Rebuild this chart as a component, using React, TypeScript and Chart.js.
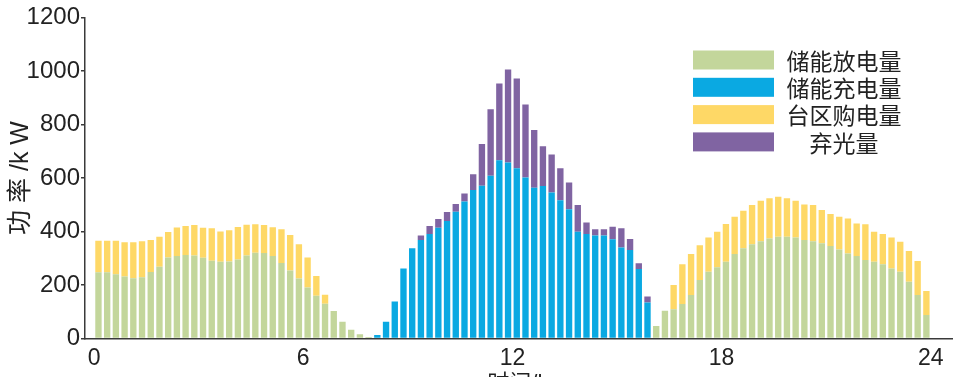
import React, { useEffect, useRef } from "react";
import { Chart, registerables } from "chart.js";

Chart.register(...registerables);

// 96 fifteen-minute slots, bar placed at the slot centre (hours)
const slotHours = Array.from({ length: 96 }, (_, i) => i * 0.25 + 0.125);
const xTickValues = [0, 6, 12, 18, 24];
const yTickValues = [0, 200, 400, 600, 800, 1000, 1200];

const seriesNames = ["储能放电量", "储能充电量", "台区购电量", "弃光量"];
const seriesColors = ["#c3d69b", "#0aa9e2", "#fed866", "#8064a2"];

// 储能放电量 (kW)
const discharge = [
  248, 248, 240, 232, 225, 229, 249, 268, 303, 308, 312, 310, 302, 291, 287, 288,
  295, 310, 321, 320, 308, 282, 254, 224, 191, 160, 130, 103, 63, 33, 16, 6,
  0, 0, 0, 0, 0, 0, 0, 0, 0, 0, 0, 0, 0, 0, 0, 0,
  0, 0, 0, 0, 0, 0, 0, 0, 0, 0, 0, 0, 0, 0, 0, 0,
  47, 104, 109, 129, 163, 219, 250, 266, 287, 316, 337, 352, 364, 374, 380, 380,
  378, 368, 364, 356, 346, 333, 318, 308, 293, 287, 278, 262, 250, 212, 163, 88,
];

// 储能充电量 (kW)
const charge = [
  0, 0, 0, 0, 0, 0, 0, 0, 0, 0, 0, 0, 0, 0, 0, 0,
  0, 0, 0, 0, 0, 0, 0, 0, 0, 0, 0, 0, 0, 0, 0, 0,
  13, 63, 138, 262, 337, 368, 391, 414, 439, 474, 512, 555, 571, 608, 666, 658,
  636, 602, 564, 570, 546, 517, 483, 399, 391, 385, 385, 371, 340, 331, 260, 135,
  0, 0, 0, 0, 0, 0, 0, 0, 0, 0, 0, 0, 0, 0, 0, 0,
  0, 0, 0, 0, 0, 0, 0, 0, 0, 0, 0, 0, 0, 0, 0, 0,
];

// 台区购电量 (kW)
const purchase = [
  117, 117, 125, 128, 135, 135, 119, 112, 95, 107, 109, 114, 112, 121, 113, 117,
  122, 115, 106, 104, 108, 126, 133, 128, 112, 74, 34, 0, 0, 0, 0, 0,
  0, 0, 0, 0, 0, 0, 0, 0, 0, 0, 0, 0, 0, 0, 0, 0,
  0, 0, 0, 0, 0, 0, 0, 0, 0, 0, 0, 0, 0, 0, 0, 0,
  0, 0, 91, 149, 153, 130, 128, 133, 141, 139, 141, 147, 151, 150, 150, 144,
  137, 133, 135, 124, 119, 122, 131, 122, 134, 112, 113, 116, 112, 115, 127, 90,
];

// 弃光量 (kW)
const curtail = [
  0, 0, 0, 0, 0, 0, 0, 0, 0, 0, 0, 0, 0, 0, 0, 0,
  0, 0, 0, 0, 0, 0, 0, 0, 0, 0, 0, 0, 0, 0, 0, 0,
  0, 0, 0, 0, 0, 17, 30, 33, 34, 29, 30, 59, 156, 249, 287, 348,
  336, 273, 215, 149, 142, 119, 100, 100, 43, 23, 23, 47, 72, 41, 21, 22,
  0, 0, 0, 0, 0, 0, 0, 0, 0, 0, 0, 0, 0, 0, 0, 0,
  0, 0, 0, 0, 0, 0, 0, 0, 0, 0, 0, 0, 0, 0, 0, 0,
];

const allSeries = [discharge, charge, purchase, curtail];

const latin = '"Liberation Sans", Arial, sans-serif';
const cjk = '"Liberation Sans", "Noto Sans CJK SC", sans-serif';
const axisColor = "#3a3a3a";
const textColor = "#222222";

const boxLegend = {
  id: "boxLegend",
  afterDraw(chart: any) {
    const ctx = chart.ctx;
    ctx.save();
    chart.data.datasets.forEach((ds: any, i: number) => {
      const cy = 60 + i * 27.3;
      ctx.fillStyle = ds.backgroundColor;
      ctx.fillRect(693, cy - 9.5, 81, 19);
      ctx.fillStyle = textColor;
      ctx.font = '23px "Noto Sans CJK SC", sans-serif';
      ctx.textAlign = "center";
      ctx.textBaseline = "middle";
      ctx.fillText(ds.label, 844, cy + 1);
    });
    ctx.restore();
  },
};

export default function App() {
  const canvasRef = useRef<HTMLCanvasElement | null>(null);

  useEffect(() => {
    if (!canvasRef.current) return;
    const chart = new Chart(canvasRef.current, {
      type: "bar",
      data: {
        datasets: allSeries.map((arr, k) => ({
          label: seriesNames[k],
          data: arr.map((v, i) => ({ x: slotHours[i], y: v })),
          backgroundColor: seriesColors[k],
          borderWidth: 0,
          categoryPercentage: 1,
          barPercentage: 0.73,
        })),
      },
      options: {
        responsive: false,
        animation: false,
        events: [],
        layout: { padding: { top: 17.5, right: 6, left: 0, bottom: 0 } },
        plugins: { legend: { display: false }, tooltip: { enabled: false } },
        scales: {
          x: {
            type: "linear",
            position: "bottom",
            stacked: true,
            offset: false,
            bounds: "data",
            min: -0.261,
            max: 24.61,
            afterBuildTicks: (s: any) => {
              s.ticks = xTickValues.map((v) => ({ value: v }));
            },
            afterFit: (s: any) => {
              s.height = 61.5;
            },
            ticks: {
              autoSkip: false,
              maxRotation: 0,
              padding: 6,
              color: textColor,
              font: { family: latin, size: 23 },
              callback: (v: any) => String(v),
            },
            grid: { display: false, drawTicks: false },
            border: { display: true, color: axisColor, width: 1.5 },
            title: {
              display: true,
              text: "时间/h",
              color: textColor,
              font: { family: cjk, size: 22 },
              padding: { top: 4, bottom: 3 },
            },
          },
          y: {
            type: "linear",
            stacked: true,
            min: 0,
            max: 1200,
            afterBuildTicks: (s: any) => {
              s.ticks = yTickValues.map((v) => ({ value: v }));
            },
            afterFit: (s: any) => {
              s.width = 85;
            },
            ticks: {
              padding: 1,
              color: textColor,
              font: { family: latin, size: 24 },
              callback: (v: any) => String(v),
            },
            grid: {
              drawOnChartArea: false,
              drawTicks: true,
              tickLength: 4,
              color: axisColor,
              lineWidth: 1.5,
            },
            border: { display: true, color: axisColor, width: 1.5 },
            title: {
              display: true,
              text: "功 率 /k W",
              color: textColor,
              font: { family: cjk, size: 25 },
              padding: { top: 6, bottom: 0 },
            },
          },
        },
      },
      plugins: [boxLegend],
    } as any);
    return () => chart.destroy();
  }, []);

  return (
    <div
      style={{
        position: "absolute",
        left: 0,
        top: 0,
        width: 958,
        height: 377,
        overflow: "hidden",
        background: "#ffffff",
      }}
    >
      <canvas ref={canvasRef} width={958} height={400} style={{ display: "block" }} />
    </div>
  );
}
